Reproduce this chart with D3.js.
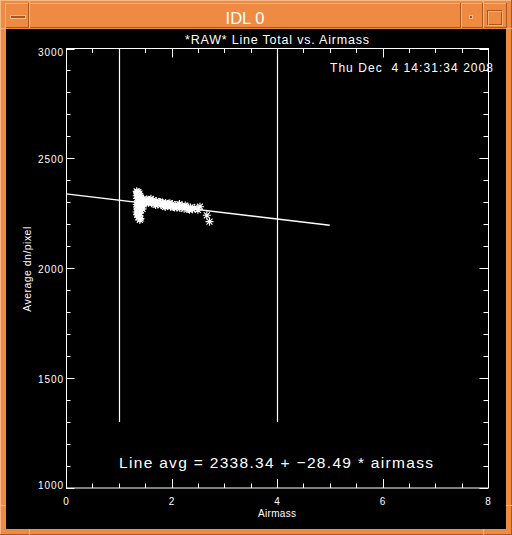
<!DOCTYPE html>
<html><head><meta charset="utf-8">
<script src="https://cdn.jsdelivr.net/npm/d3@7"></script>
<style>html,body{margin:0;padding:0;background:#ee8a42;overflow:hidden}svg{display:block}</style>
</head><body>
<script>
// ---- data ----
const windowTitle = "IDL 0";
const plotTitle = "*RAW* Line Total vs. Airmass";
const dateStamp = "Thu Dec  4 14:31:34 2008";
const xLabel = "Airmass";
const yLabel = "Average dn/pixel";
const fitIntercept = 2338.34;
const fitSlope = -28.49;
const fitRange = [0, 5];
const markerAirmass = [1, 4];
const markerRange = [1300, 3000];
const xDomain = [0, 8];
const yDomain = [1000, 3000];
const xMajorTicks = [0, 2, 4, 6, 8];
const yMajorTicks = [1000, 1500, 2000, 2500, 3000];
const airmass = [1.34,1.35,1.36,1.37,1.38,1.39,1.40,1.41,1.42,1.43,
  1.34,1.35,1.36,1.37,1.38,1.39,1.40,1.41,1.42,1.43,1.44,
  1.34,1.35,1.36,1.37,1.38,1.39,1.40,1.41,1.42,1.43,
  1.34,1.36,1.38,1.40,1.42,1.44,1.35,1.37,1.39,1.41,1.40,1.38,1.45,1.47,
  1.47,1.50,1.53,1.56,1.59,1.62,1.65,1.68,1.71,1.74,1.77,1.80,1.83,1.86,1.89,1.92,1.95,1.98,
  2.01,2.04,2.07,2.10,2.13,2.16,2.20,2.24,2.28,2.32,2.36,2.40,2.44,2.50,2.54,2.67,2.72,
  1.52,1.61,1.70,1.79,1.88,1.97,2.06,2.15,2.26,2.34];
const lineAvg = [2350,2344,2338,2346,2332,2340,2328,2322,2316,2310,
  2330,2318,2306,2300,2312,2296,2304,2298,2306,2300,2302,
  2290,2280,2272,2286,2266,2278,2262,2284,2276,2292,
  2256,2248,2240,2252,2264,2280,2244,2232,2238,2226,2220,2258,2270,2300,
  2316,2302,2313,2298,2311,2296,2309,2294,2306,2290,2302,2288,2299,2284,2297,2283,2294,2280,
  2292,2279,2288,2276,2286,2274,2283,2271,2280,2270,2277,2268,2275,2266,2280,2241,2212,
  2295,2316,2288,2300,2279,2296,2276,2292,2285,2266];

// ---- layout ----
const W = 512, H = 535;
const svg = d3.select("body").append("svg").attr("width", W).attr("height", H);
const orange = "#ee8a42", light = "#f7b885", dark = "#a9561f";
// window frame
svg.append("rect").attr("width", W).attr("height", H).attr("fill", orange);
svg.append("rect").attr("x",0).attr("y",0).attr("width",W).attr("height",1).attr("fill",light);
svg.append("rect").attr("x",0).attr("y",0).attr("width",1).attr("height",H).attr("fill",light);
svg.append("rect").attr("x",0).attr("y",H-1).attr("width",W).attr("height",1).attr("fill",dark);
svg.append("rect").attr("x",W-1).attr("y",0).attr("width",1).attr("height",H).attr("fill",dark);
// title bar bevels
svg.append("rect").attr("x",6).attr("y",3).attr("width",500).attr("height",1).attr("fill",light);
svg.append("rect").attr("x",5).attr("y",3).attr("width",1).attr("height",26).attr("fill",light);
svg.append("rect").attr("x",6).attr("y",27).attr("width",500).attr("height",1).attr("fill",dark);
svg.append("rect").attr("x",506).attr("y",3).attr("width",1).attr("height",26).attr("fill",dark);
[29, 461, 483].forEach(x => {
  svg.append("rect").attr("x",x-1).attr("y",3).attr("width",1).attr("height",25).attr("fill",dark);
  svg.append("rect").attr("x",x).attr("y",3).attr("width",1).attr("height",25).attr("fill",light);
});
// resize-handle marks
[[29,0,1,4],[483,0,1,4],[29,529,1,6],[483,529,1,6]].forEach(d =>
  svg.append("rect").attr("x",d[0]).attr("y",d[1]).attr("width",d[2]).attr("height",d[3]).attr("fill",light));
[[0,28,6,1],[506,28,6,1],[0,505,6,1],[506,505,6,1]].forEach(d =>
  svg.append("rect").attr("x",d[0]).attr("y",d[1]).attr("width",d[2]).attr("height",d[3]).attr("fill",light));
// buttons
svg.append("rect").attr("x",10.5).attr("y",15.5).attr("width",15).attr("height",3).attr("fill","none").attr("stroke",light);
svg.append("rect").attr("x",11).attr("y",16).attr("width",14).attr("height",2).attr("fill",dark);
svg.append("rect").attr("x",469.5).attr("y",15.5).attr("width",3).attr("height",3).attr("fill",dark).attr("stroke",light);
svg.append("rect").attr("x",487.5).attr("y",10.5).attr("width",14).attr("height",14).attr("fill","none").attr("stroke",dark);
svg.append("rect").attr("x",488.5).attr("y",11.5).attr("width",14).attr("height",14).attr("fill","none").attr("stroke",light).attr("stroke-opacity",0.8);
svg.append("text").attr("x",245).attr("y",24).attr("text-anchor","middle")
  .attr("font-family","Liberation Sans, Arial, sans-serif").attr("font-size",16.5)
  .attr("fill","#fff").text(windowTitle);
// canvas
svg.append("rect").attr("x",6).attr("y",29).attr("width",500).attr("height",500).attr("fill","#000");

const L = 66, R = 488, T = 48.5, B = 488;
const x = d3.scaleLinear().domain(xDomain).range([L, R]);
const y = d3.scaleLinear().domain(yDomain).range([B, T]);
const font = "Liberation Sans, Arial, sans-serif";
const g = svg.append("g");
const white = "#fff";

// axes box
g.append("rect").attr("x",L+0.5).attr("y",T).attr("width",R-L).attr("height",B-T)
  .attr("fill","none").attr("stroke",white).attr("stroke-width",1);

// x ticks (bottom & top)
const xMinor = d3.range(xDomain[0], xDomain[1] + 0.001, 0.5);
xMinor.forEach(v => {
  const major = xMajorTicks.includes(v);
  const len = major ? 9 : 4.5;
  const px = Math.round(x(v)) + 0.5;
  g.append("line").attr("x1",px).attr("x2",px).attr("y1",B).attr("y2",B-len).attr("stroke",white);
  g.append("line").attr("x1",px).attr("x2",px).attr("y1",T).attr("y2",T+len).attr("stroke",white);
});
// y ticks (left & right)
const yMinor = d3.range(yDomain[0], yDomain[1] + 1, 100);
yMinor.forEach(v => {
  const major = yMajorTicks.includes(v);
  const len = major ? 8.5 : 4.5;
  const py = Math.round(y(v)) + 0.5;
  g.append("line").attr("x1",L).attr("x2",L+len).attr("y1",py).attr("y2",py).attr("stroke",white);
  g.append("line").attr("x1",R).attr("x2",R-len).attr("y1",py).attr("y2",py).attr("stroke",white);
});
// tick labels
xMajorTicks.forEach(v => {
  g.append("text").attr("x", x(v)).attr("y", 504.5).attr("text-anchor","middle")
    .attr("font-family",font).attr("font-size",10).attr("fill",white).text(v);
});
yMajorTicks.forEach(v => {
  const cy = Math.max(T + 4, Math.min(B - 3, y(v) + 1));
  g.append("text").attr("x", 63).attr("y", cy + 3.5).attr("text-anchor","end")
    .attr("font-family",font).attr("font-size",10).attr("fill",white)
    .attr("textLength",25).attr("lengthAdjust","spacing").text(v);
});
// axis titles
g.append("text").attr("x",(L+R)/2).attr("y",516.5).attr("text-anchor","middle")
  .attr("font-family",font).attr("font-size",10).attr("fill",white)
  .attr("textLength",38).attr("lengthAdjust","spacing").text(xLabel);
g.append("text").attr("transform","translate(30.5," + ((T+B)/2 + 1) + ") rotate(-90)")
  .attr("text-anchor","middle").attr("font-family",font).attr("font-size",10.5).attr("fill",white)
  .attr("textLength",85).attr("lengthAdjust","spacing").text(yLabel);
g.append("text").attr("x",(L+R)/2).attr("y",43.5).attr("text-anchor","middle")
  .attr("font-family",font).attr("font-size",12.5).attr("fill",white)
  .attr("textLength",184).attr("lengthAdjust","spacing").text(plotTitle);
g.append("text").attr("x",330).attr("y",71.5).style("white-space","pre")
  .attr("font-family",font).attr("font-size",12).attr("fill",white)
  .attr("textLength",163).attr("lengthAdjust","spacing").text(dateStamp);
g.append("text").attr("x",119).attr("y",467.5).style("white-space","pre")
  .attr("font-family",font).attr("font-size",15.5).attr("fill",white)
  .attr("textLength",314).attr("lengthAdjust","spacing")
  .text("Line avg = " + fitIntercept.toFixed(2) + " + " + "\u2212" + Math.abs(fitSlope).toFixed(2) + " * airmass");

// vertical marker lines
markerAirmass.forEach(v => {
  const px = Math.round(x(v)) + 0.5;
  g.append("line").attr("x1",px).attr("x2",px).attr("y1",y(markerRange[0])).attr("y2",y(markerRange[1]))
    .attr("stroke",white).attr("stroke-width",1.2);
});
// fit line
g.append("line").attr("x1",x(fitRange[0])).attr("x2",x(fitRange[1]))
  .attr("y1",y(fitIntercept + fitSlope*fitRange[0])).attr("y2",y(fitIntercept + fitSlope*fitRange[1]))
  .attr("stroke",white).attr("stroke-width",1.4);
// asterisks
const r = 4, rd = 3;
const star = `M${-r},0H${r}M0,${-r}V${r}M${-rd},${-rd}L${rd},${rd}M${-rd},${rd}L${rd},${-rd}`;
g.selectAll("path.pt").data(airmass.map((a,i)=>[a, lineAvg[i]])).enter().append("path")
  .attr("class","pt").attr("d",star)
  .attr("transform", d => `translate(${x(d[0])},${y(d[1])})`)
  .attr("stroke",white).attr("stroke-width",1.1).attr("fill","none");
</script>
</body></html>
